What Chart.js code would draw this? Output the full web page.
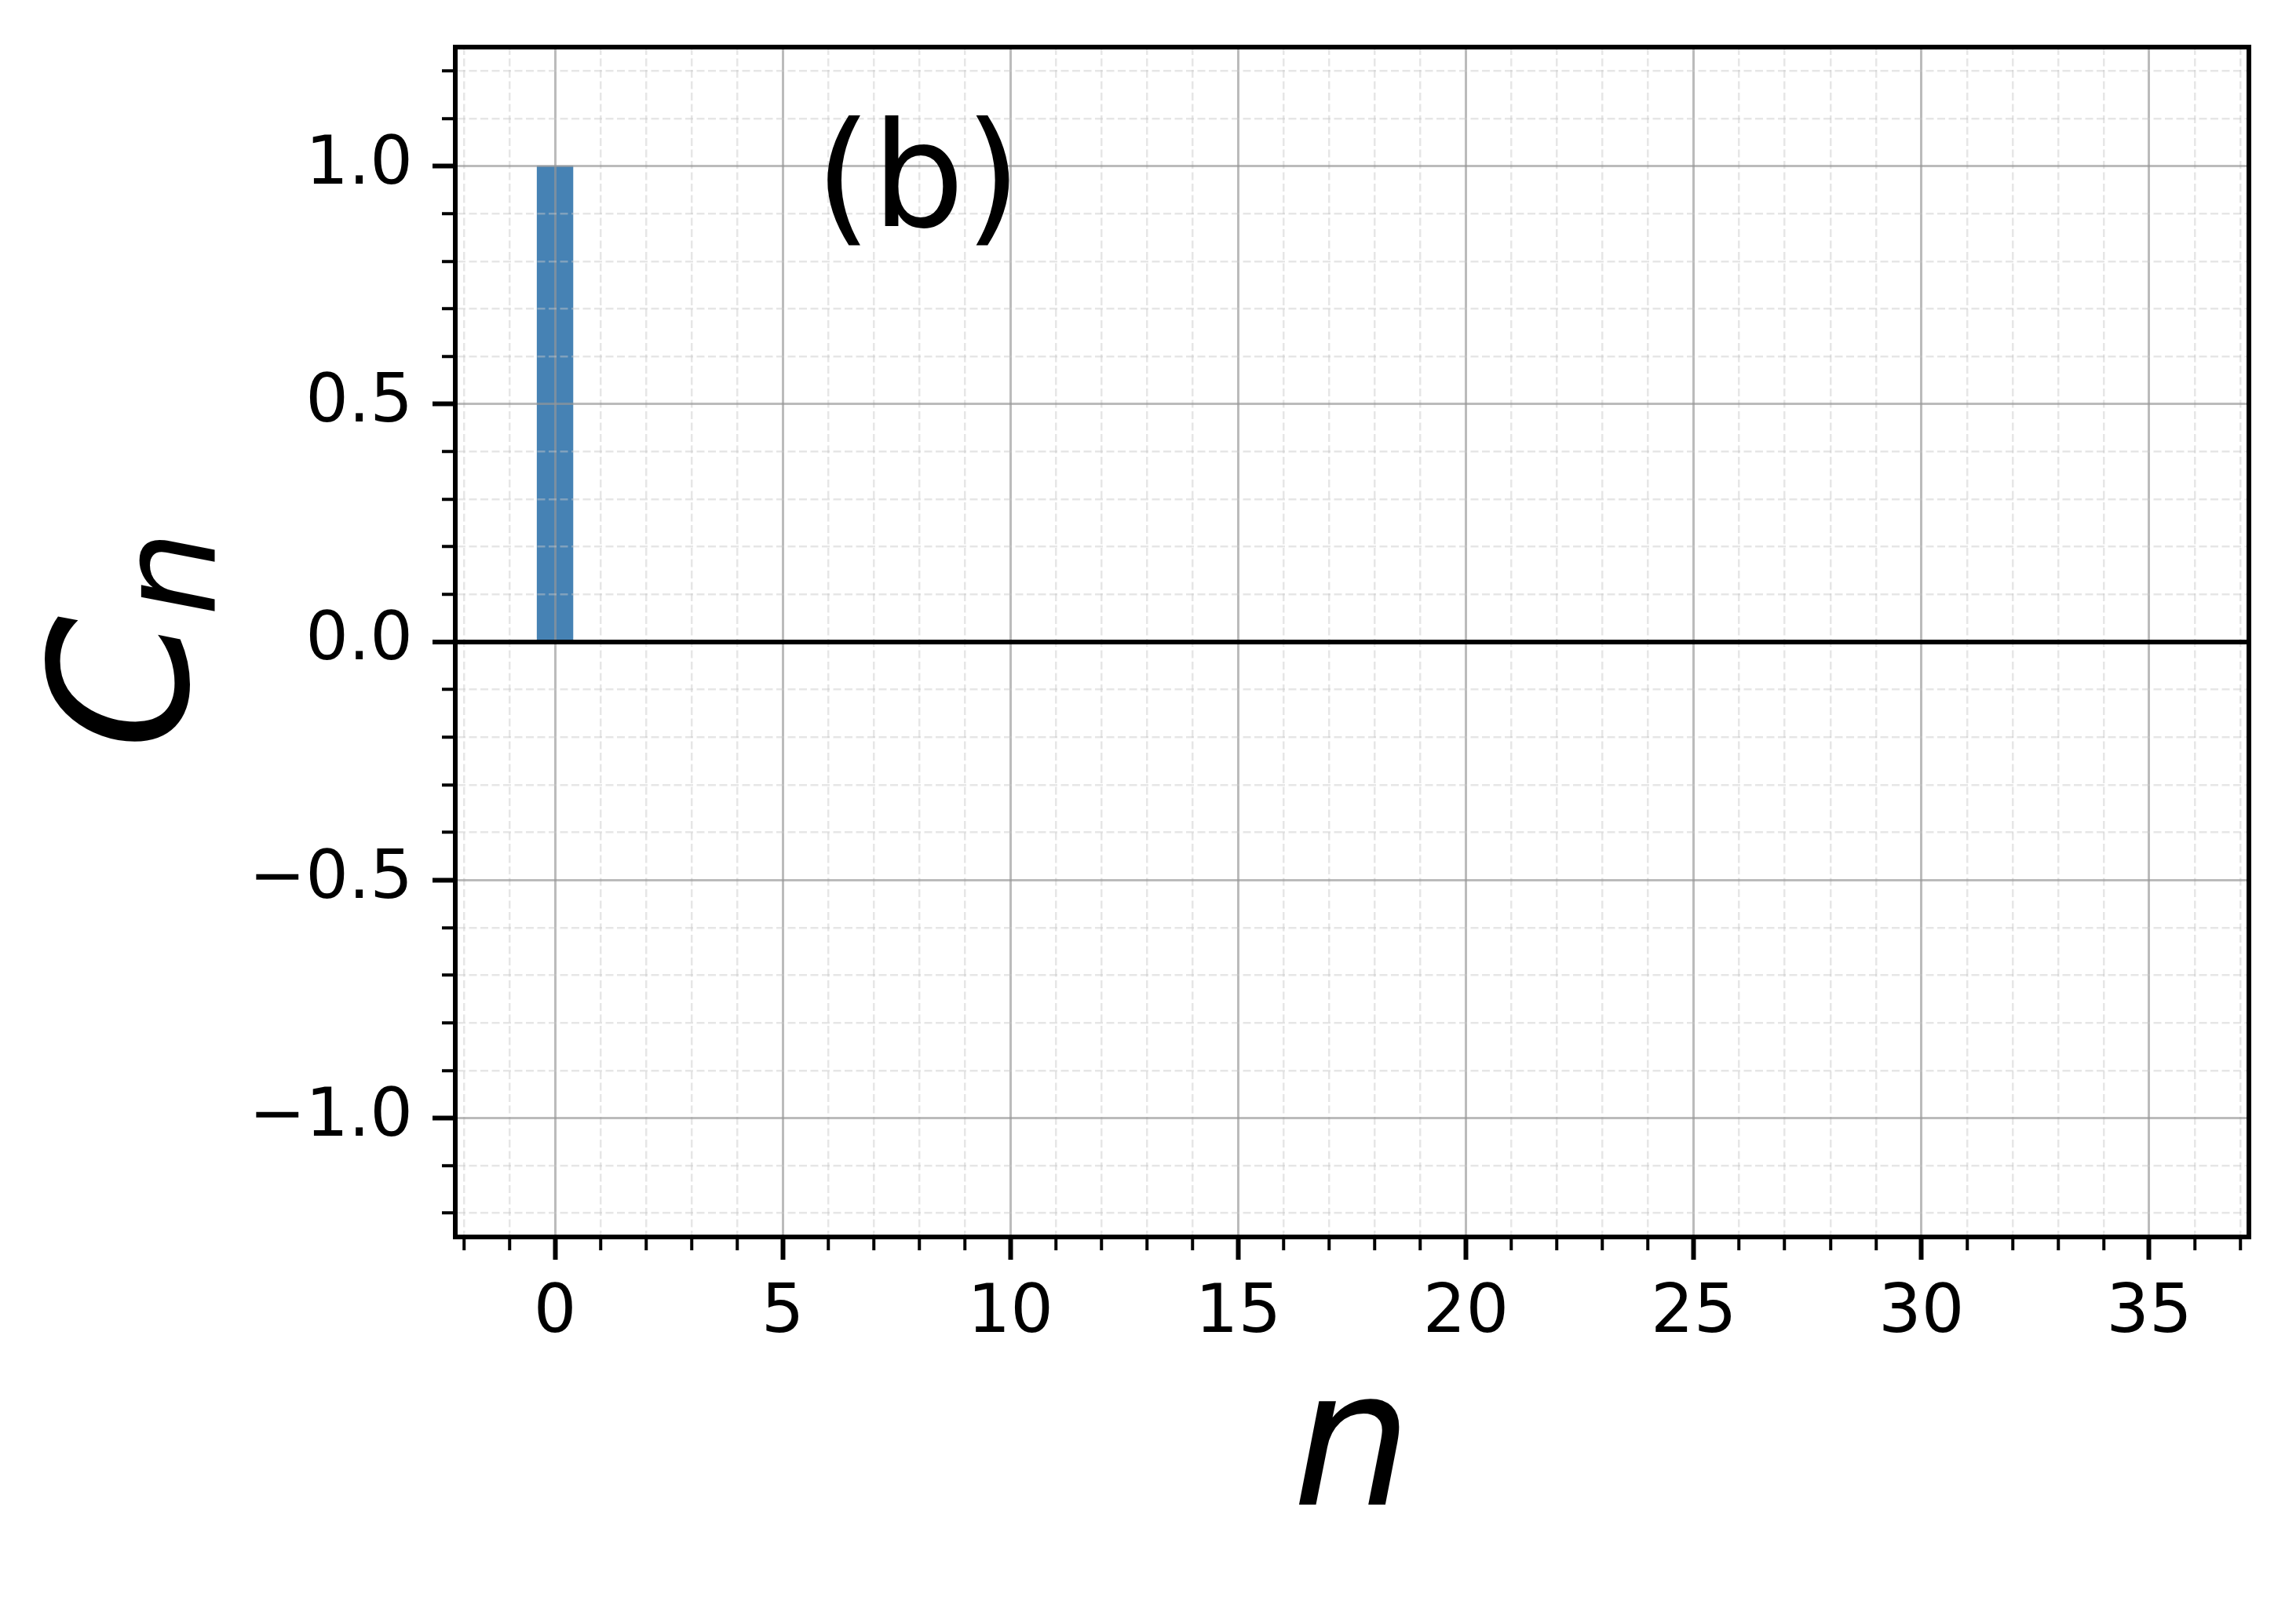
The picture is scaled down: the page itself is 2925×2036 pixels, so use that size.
<!DOCTYPE html>
<html>
<head>
<meta charset="utf-8">
<script src="https://cdn.jsdelivr.net/npm/chart.js@4.4.1/dist/chart.umd.min.js"></script>
<style>
  html, body { margin: 0; padding: 0; background: #fff; }
  #wrap { width: 2925px; height: 2036px; position: relative; }
</style>
</head>
<body>
<div id="wrap"><canvas id="chart"></canvas></div>
<script>
// dados do gráfico (b): coeficientes C_n
const nValues = [0, 1, 2, 3, 4, 5, 6, 7, 8, 9, 10, 11, 12, 13, 14, 15, 16, 17,
                 18, 19, 20, 21, 22, 23, 24, 25, 26, 27, 28, 29, 30, 31, 32, 33, 34, 35];
const cValues = [1.0, 0, 0, 0, 0, 0, 0, 0, 0, 0, 0, 0, 0, 0, 0, 0, 0, 0,
                 0, 0, 0, 0, 0, 0, 0, 0, 0, 0, 0, 0, 0, 0, 0, 0, 0, 0];

// ticks (major com rótulo, minor só com grade tracejada)
const xTicks = [-2, -1, 0, 1, 2, 3, 4, 5, 6, 7, 8, 9, 10, 11, 12, 13, 14, 15, 16, 17, 18, 19,
                20, 21, 22, 23, 24, 25, 26, 27, 28, 29, 30, 31, 32, 33, 34, 35, 36, 37];
const xMajorTicks = [0, 5, 10, 15, 20, 25, 30, 35];
const yTicks = [-1.2, -1.1, -1.0, -0.9, -0.8, -0.7, -0.6, -0.5, -0.4, -0.3, -0.2, -0.1, 0.0,
                0.1, 0.2, 0.3, 0.4, 0.5, 0.6, 0.7, 0.8, 0.9, 1.0, 1.1, 1.2];
const yMajorTicks = [-1.0, -0.5, 0.0, 0.5, 1.0];

const xLimits = [-2.19, 37.19];
const yLimits = [-1.25, 1.25];

const FONT = '"DejaVu Sans"';
const MAJOR_GRID = 'rgba(150,150,150,0.65)';
const MINOR_GRID = 'rgba(200,200,200,0.45)';

function isMajor(v, majors) {
    return majors.some(m => Math.abs(m - v) < 1e-9);
}

// true quando o contexto é de um tick minor
function minorCtx(c, majors) {
    return !!(c && c.tick) && !isMajor(c.tick.value, majors);
}

function zeroCtx(c) {
    return !!(c && c.tick) && Math.abs(c.tick.value) < 1e-9;
}

function fmt(v) {
    const s = Math.abs(v).toFixed(1);
    return v < -1e-9 ? '\u2212' + s : s;
}

// moldura, rótulo do eixo y (C_n) e texto "(b)"
const extras = {
    id: 'extras',
    afterDraw(chart) {
        const ctx = chart.ctx;
        const a = chart.chartArea;
        ctx.save();
        ctx.strokeStyle = '#000';
        ctx.lineWidth = 6;
        ctx.setLineDash([]);
        ctx.strokeRect(a.left, a.top, a.right - a.left, a.bottom - a.top);

        ctx.fillStyle = '#000';
        ctx.textAlign = 'left';
        ctx.textBaseline = 'alphabetic';
        ctx.font = '186px ' + FONT;
        ctx.fillText('(b)', a.left + 0.2005 * (a.right - a.left), a.top + 0.1504 * (a.bottom - a.top));

        ctx.translate(239, 955);
        ctx.rotate(-Math.PI / 2);
        ctx.font = 'italic 244px ' + FONT;
        ctx.fillText('C', 0, 0);
        const w = ctx.measureText('C').width;
        ctx.font = 'italic 171px ' + FONT;
        ctx.fillText('n', w, 35);
        ctx.restore();
    }
};

function createChart() {
    const ctx = document.getElementById('chart').getContext('2d');
    return new Chart(ctx, {
        type: 'bar',
        data: {
            datasets: [{
                data: nValues.map((n, i) => ({ x: n, y: cValues[i] })),
                backgroundColor: '#4682b4',
                borderWidth: 0,
                barPercentage: 0.8,
                categoryPercentage: 1.0
            }]
        },
        options: {
            responsive: true,
            maintainAspectRatio: false,
            animation: false,
            devicePixelRatio: 1,
            layout: { padding: { top: 60, right: 60, left: 0, bottom: 0 } },
            plugins: { legend: { display: false }, tooltip: { enabled: false } },
            scales: {
                x: {
                    type: 'linear',
                    min: xLimits[0],
                    max: xLimits[1],
                    offset: false,
                    afterBuildTicks: s => { s.ticks = xTicks.map(v => ({ value: v })); },
                    afterFit: s => { s.height = 460; s.paddingLeft = 0; s.paddingRight = 0; },
                    ticks: {
                        autoSkip: false,
                        maxRotation: 0,
                        padding: 18,
                        color: '#000',
                        font: { family: FONT, size: 86 },
                        callback: v => isMajor(v, xMajorTicks) ? String(v) : ''
                    },
                    grid: {
                        z: 1,
                        offset: false,
                        color: c => minorCtx(c, xMajorTicks) ? MINOR_GRID : MAJOR_GRID,
                        lineWidth: c => minorCtx(c, xMajorTicks) ? 2.5 : 3,
                        tickColor: '#000',
                        tickLength: 29,
                        tickWidth: c => minorCtx(c, xMajorTicks) ? 4 : 6,
                        tickBorderDash: c => minorCtx(c, xMajorTicks) ? [14, 200] : []
                    },
                    border: {
                        z: 1,
                        display: true,
                        color: '#000',
                        width: 6,
                        dash: c => minorCtx(c, xMajorTicks) ? [10, 4.5] : []
                    },
                    title: {
                        display: true,
                        text: 'n',
                        color: '#000',
                        font: { family: FONT, size: 240, style: 'italic', lineHeight: 1.0 },
                        padding: { top: 0, bottom: 61 }
                    }
                },
                y: {
                    type: 'linear',
                    min: yLimits[0],
                    max: yLimits[1],
                    afterBuildTicks: s => { s.ticks = yTicks.map(v => ({ value: v })); },
                    afterFit: s => { s.width = 580; s.paddingTop = 0; s.paddingBottom = 0; },
                    ticks: {
                        autoSkip: false,
                        padding: 25,
                        color: '#000',
                        font: { family: FONT, size: 86 },
                        callback: v => isMajor(v, yMajorTicks) ? fmt(v) : ''
                    },
                    grid: {
                        z: 1,
                        color: c => zeroCtx(c) ? '#000' : (minorCtx(c, yMajorTicks) ? MINOR_GRID : MAJOR_GRID),
                        lineWidth: c => zeroCtx(c) ? 6 : (minorCtx(c, yMajorTicks) ? 2.5 : 3),
                        tickColor: '#000',
                        tickLength: 29,
                        tickWidth: c => minorCtx(c, yMajorTicks) ? 4 : 6,
                        tickBorderDash: c => minorCtx(c, yMajorTicks) ? [0, 12, 14, 200] : []
                    },
                    border: {
                        z: 1,
                        display: true,
                        color: '#000',
                        width: 6,
                        dash: c => minorCtx(c, yMajorTicks) ? [10, 4.5] : []
                    }
                }
            }
        },
        plugins: [extras]
    });
}

window.onload = function () {
    createChart();
};
</script>
</body>
</html>
